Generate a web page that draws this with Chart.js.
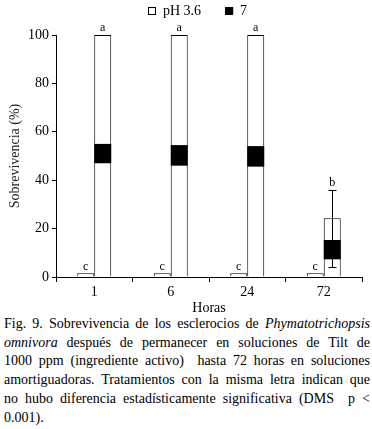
<!DOCTYPE html>
<html>
<head>
<meta charset="utf-8">
<script src="https://cdn.jsdelivr.net/npm/chart.js@4/dist/chart.umd.min.js"></script>
<style>
  body { margin: 0; background: #fff; }
  #wrap { position: relative; width: 372px; height: 315px; }
  .cap { font-family: "Liberation Serif", serif; font-size: 14px; line-height: 18.7px; color: #000;
         margin-left: 4px; width: 366px; }
  .cap div { text-align: justify; text-align-last: justify; white-space: nowrap; }
  .cap div.last { text-align-last: left; }
</style>
</head>
<body>
<div id="wrap"><canvas id="chart" width="372" height="315"></canvas></div>
<div class="cap">
  <div>Fig. 9. Sobrevivencia de los esclerocios de <i>Phymatotrichopsis</i></div>
  <div><i>omnivora</i> después de permanecer en soluciones de Tilt de</div>
  <div>1000 ppm (ingrediente activo)&nbsp; hasta 72 horas en soluciones</div>
  <div>amortiguadoras. Tratamientos con la misma letra indican que</div>
  <div>no hubo diferencia estadísticamente significativa (DMS&nbsp; p &lt;</div>
  <div class="last">0.001).</div>
</div>
<script>
var horas = ["1", "6", "24", "72"];
var ph36 = [1.5, 1.5, 1.5, 1.5];
var ph7Total = [100, 100, 100, 24.3];
var ph7Box = [[47, 55], [46, 54.5], [45.6, 54.1], [7.3, 15.3]];
var errLow = [null, null, null, 4];
var errHigh = [null, null, null, 36];
var letrasBajas = ["c", "c", "c", "c"];
var letrasAltas = ["a", "a", "a", "b"];

var serif = "'Liberation Serif', 'Times New Roman', serif";

// leyenda propia, letras de significancia y barra de error
var marcas = {
  id: "marcas",
  afterDraw: function (chart) {
    var ctx = chart.ctx;
    var ds = chart.data.datasets;
    ctx.save();
    ctx.font = "14px " + serif;
    ctx.textBaseline = "middle";
    ctx.textAlign = "left";
    var x = 148;
    for (var k = 0; k < 2; k++) {
      ctx.fillStyle = ds[k].backgroundColor;
      ctx.fillRect(x, 7, 8, 8);
      ctx.strokeStyle = "#000";
      ctx.lineWidth = 1;
      ctx.strokeRect(x + 0.5, 7.5, 7, 7);
      ctx.fillStyle = "#000";
      ctx.fillText(ds[k].label, x + 15, 11);
      x += 15 + ctx.measureText(ds[k].label).width + 24;
    }
    ctx.restore();
  },
  afterDatasetsDraw: function (chart) {
    var ctx = chart.ctx;
    var y = chart.scales.y;
    var bajas = chart.getDatasetMeta(0).data;
    var altas = chart.getDatasetMeta(2).data;
    ctx.save();
    ctx.strokeStyle = "#000";
    ctx.lineWidth = 1;
    ctx.fillStyle = "#000";
    ctx.font = "12px " + serif;
    ctx.textAlign = "center";
    ctx.textBaseline = "alphabetic";
    for (var i = 0; i < horas.length; i++) {
      var b = bajas[i];
      ctx.fillText(letrasBajas[i], b.x, b.y - 3);
      var a = altas[i];
      var top = a.y;
      if (errHigh[i] != null) {
        var yh = y.getPixelForValue(errHigh[i]);
        var yl = y.getPixelForValue(errLow[i]);
        var xe = Math.round(a.x) + 0.5;
        ctx.beginPath();
        ctx.moveTo(xe, yh); ctx.lineTo(xe, yl);
        ctx.moveTo(xe - 4, Math.round(yh) + 0.5); ctx.lineTo(xe + 4, Math.round(yh) + 0.5);
        ctx.moveTo(xe - 4, Math.round(yl) + 0.5); ctx.lineTo(xe + 4, Math.round(yl) + 0.5);
        ctx.stroke();
        top = yh;
      }
      ctx.fillText(letrasAltas[i], a.x, top - 4);
    }
    ctx.restore();
  }
};

new Chart(document.getElementById("chart"), {
  type: "bar",
  data: {
    labels: horas,
    datasets: [
      { label: "pH 3.6", data: ph36, backgroundColor: "#fff", borderColor: "#000",
        borderWidth: 1, stack: "a", order: 0 },
      { label: "7", data: ph7Box, backgroundColor: "#000", borderColor: "#000",
        borderWidth: 0, stack: "b", order: 1 },
      { label: "total", data: ph7Total, backgroundColor: "#fff", borderColor: "#000",
        borderWidth: 1, stack: "b", order: 2 }
    ]
  },
  options: {
    responsive: false,
    animation: false,
    categoryPercentage: 0.444,
    barPercentage: 1,
    layout: { padding: { top: 35, right: 10 } },
    plugins: {
      tooltip: { enabled: false },
      legend: { display: false }
    },
    scales: {
      x: {
        afterFit: function (s) { s.height = 38; },
        grid: { display: true, drawOnChartArea: false, tickLength: 5, color: "#000", offset: true },
        border: { color: "#000" },
        ticks: { color: "#000", padding: 3, font: { family: serif, size: 14, lineHeight: 1 } },
        title: { display: true, text: "Horas", color: "#000", padding: { top: 0, bottom: 0 },
                 font: { family: serif, size: 14, lineHeight: 1 } }
      },
      y: {
        stacked: false,
        min: 0, max: 100,
        afterFit: function (s) { s.width = 56; },
        grid: { display: true, drawOnChartArea: false, tickLength: 4, color: "#000" },
        border: { color: "#000" },
        ticks: { stepSize: 20, color: "#000", padding: 3, font: { family: serif, size: 14, lineHeight: 1 } },
        title: { display: true, text: "Sobrevivencia (%)", color: "#222", padding: { top: 8, bottom: 0 },
                 font: { family: serif, size: 14, lineHeight: 1 } }
      }
    }
  },
  plugins: [marcas]
});
</script>
</body>
</html>
